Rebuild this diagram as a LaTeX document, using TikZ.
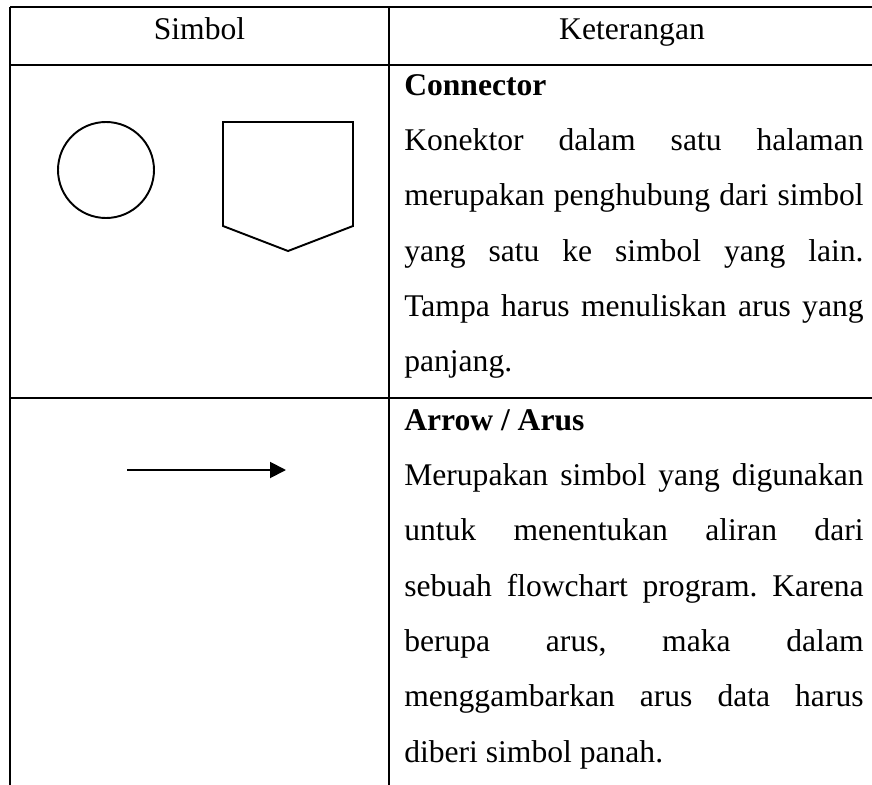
\documentclass[tikz,border=0pt]{standalone}
\usepackage{fontspec}
\setmainfont{Liberation Serif}
\usetikzlibrary{arrows.meta}
\begin{document}
\begin{tikzpicture}[x=0.75pt,y=-0.75pt,
  tbl/.style={line width=1.6pt},
  shp/.style={line width=1.45pt},
  txt/.style={inner sep=0pt,font=\fontsize{23.7}{41.5}\selectfont\frenchspacing},
  desc/.style={txt,anchor=base west,text width=344.5pt,align=justify}]
\useasboundingbox (0,0) rectangle (872,785);
% table rules
\draw[tbl] (10,7) -- (872,7);
\draw[tbl] (10,65) -- (872,65);
\draw[tbl] (10,398) -- (872,398);
\draw[tbl] (10,7) -- (10,785);
\draw[tbl] (389,7) -- (389,785);
% header
\node[txt,anchor=base] (h1) at (199.5,40) {Simbol};
\node[txt,anchor=base] (h2) at (632,40) {Keterangan};
% row 1 symbols
\node[shp,draw,circle,minimum size=96*0.75pt,inner sep=0pt] (circ) at (106,170) {};
\draw[shp,line join=miter] (223,122) -- (353,122) -- (353,226) -- (288,251) -- (223,226) -- cycle;
% row 1 text
\node[desc] (d1) at (404,95) {\textbf{Connector}\\Konektor dalam satu halaman\linebreak merupakan penghubung dari simbol\linebreak yang satu ke simbol yang lain.\linebreak Tampa harus menuliskan arus yang\linebreak panjang.};
% row 2 symbol
\coordinate (a1) at (127,470);
\coordinate (a2) at (286,470);
\draw[shp,-{Triangle[length=12pt,width=12pt]}] (a1) -- (a2);
% row 2 text
\node[desc] (d2) at (404,430) {\textbf{Arrow / Arus}\\Merupakan simbol yang digunakan\linebreak untuk menentukan aliran dari\linebreak sebuah flowchart program. Karena\linebreak berupa arus, maka dalam\linebreak menggambarkan arus data harus\linebreak diberi simbol panah.};
\end{tikzpicture}
\end{document}
